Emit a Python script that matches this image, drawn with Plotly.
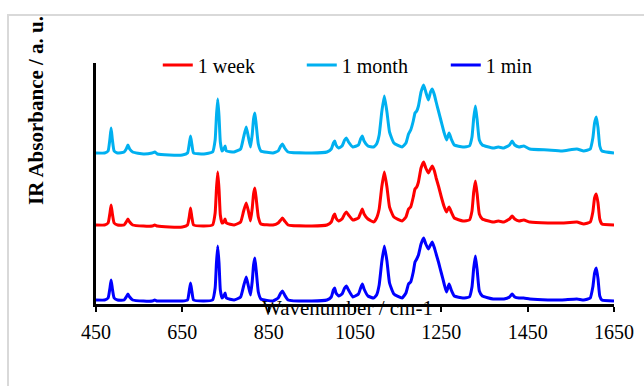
import plotly.graph_objects as go

# Wavenumber grid (cm-1)
wavenumber = [
    450, 470, 478, 482, 485, 488, 492, 500, 515, 520,
    524, 528, 535, 560, 580, 586, 592, 620, 650, 662,
    666, 669, 672, 676, 700, 720, 726, 729, 732, 735,
    738, 742, 746, 749, 752, 770, 785, 792, 798, 803,
    808, 812, 815, 818, 821, 826, 832, 860, 872, 878,
    882, 887, 895, 950, 985, 995, 1000, 1003, 1006, 1012,
    1020, 1026, 1030, 1035, 1045, 1058, 1063, 1067, 1071, 1080,
    1093, 1100, 1106, 1112, 1118, 1124, 1130, 1140, 1159, 1168,
    1174, 1179, 1185, 1189, 1193, 1197, 1203, 1209, 1214, 1220,
    1225, 1229, 1234, 1238, 1244, 1250, 1256, 1262, 1268, 1273,
    1280, 1300, 1315, 1321, 1325, 1329, 1333, 1338, 1345, 1370,
    1382, 1395, 1408, 1414, 1420, 1430, 1441, 1455, 1497, 1530,
    1564, 1580, 1595, 1601, 1605, 1609, 1613, 1617, 1622, 1650,
]

# Absorbance (a. u.) for each sample
absorb_1month = [
    1, 1, 3, 14, 26, 14, 3, 1, 2, 5,
    9, 5, 2, 0, 1, 2, 0, -1, -1, 1,
    10, 18, 10, 1, 0, 2, 14, 38, 55, 38,
    12, 3, 5, 8, 3, 2, 5, 17, 27, 17,
    7, 20, 35, 41, 30, 10, 3, 1, 3, 8,
    10, 6, 2, 1, 2, 5, 11, 13, 9, 6,
    8, 14, 16, 12, 7, 9, 15, 18, 13, 8,
    7, 10, 19, 42, 58, 42, 22, 11, 7, 11,
    20, 24, 33, 41, 43, 48, 62, 69, 62, 54,
    62, 65, 59, 52, 42, 32, 22, 14, 21, 15,
    9, 7, 8, 17, 36, 48, 34, 14, 9, 6,
    7, 6, 9, 13, 9, 7, 8, 5, 4, 3,
    5, 3, 5, 16, 31, 37, 26, 8, 3, 1,
]
absorb_1week = [
    1, 1, 3, 12, 21, 12, 3, 1, 1, 4,
    7, 4, 1, 0, 0, 1, 0, -1, -1, 1,
    9, 18, 9, 1, 0, 1, 13, 37, 54, 37,
    11, 3, 4, 7, 3, 1, 4, 15, 23, 15,
    5, 18, 32, 38, 28, 9, 2, 1, 3, 6,
    8, 5, 1, 0, 1, 4, 10, 12, 8, 5,
    7, 12, 14, 11, 6, 8, 13, 17, 12, 7,
    4, 8, 17, 39, 54, 39, 19, 9, 5, 9,
    17, 19, 29, 37, 39, 44, 58, 64, 58, 53,
    57, 60, 55, 48, 39, 29, 20, 14, 19, 14,
    8, 5, 6, 15, 34, 45, 32, 12, 7, 4,
    5, 4, 7, 10, 7, 5, 6, 4, 3, 3,
    4, 2, 4, 14, 28, 32, 23, 7, 2, 1,
]
absorb_1min = [
    1, 1, 3, 12, 21, 12, 3, 1, 1, 4,
    7, 4, 1, 0, 0, 1, 0, 0, 0, 1,
    10, 18, 10, 1, 0, 1, 13, 38, 55, 38,
    11, 3, 5, 8, 3, 1, 4, 15, 24, 15,
    6, 20, 36, 43, 31, 9, 2, 0, 3, 8,
    10, 6, 1, 0, 1, 4, 11, 13, 8, 5,
    7, 13, 15, 11, 4, 7, 13, 17, 12, 5,
    3, 6, 16, 39, 55, 40, 18, 7, 3, 8,
    17, 19, 29, 39, 42, 46, 57, 63, 57, 52,
    56, 59, 53, 47, 38, 28, 18, 9, 17, 11,
    5, 3, 4, 14, 33, 45, 31, 10, 5, 2,
    2, 2, 4, 7, 4, 3, 3, 2, 1, 1,
    2, 1, 3, 14, 28, 33, 22, 5, 1, 0,
]

series_names = ["1 week", "1 month", "1 min"]
series_values = [absorb_1week, absorb_1month, absorb_1min]
series_offsets = [78, 150, 3]          # vertical stacking offsets (a. u.)
series_colors = ["#FF0000", "#00B0F0", "#0000FF"]

x_tickvals = [450, 650, 850, 1050, 1250, 1450, 1650]

FONT = "Times New Roman, Liberation Serif, serif"

fig = go.Figure()
for name, vals, off, col in zip(series_names, series_values, series_offsets, series_colors):
    fig.add_trace(go.Scatter(
        x=wavenumber, y=[v + off for v in vals], mode="lines", name=name,
        line=dict(color=col, width=3, shape="spline", smoothing=0.4),
    ))

W, H = 644, 386
ml, mr, mt, mb = 96, 30, 63, 82
pw, ph = W - ml - mr, H - mt - mb

fig.update_layout(
    width=W, height=H,
    margin=dict(l=ml, r=mr, t=mt, b=mb, pad=0, autoexpand=False),
    paper_bgcolor="white", plot_bgcolor="white",
    font=dict(family=FONT, size=20, color="black"),
    showlegend=True,
    legend=dict(
        orientation="h", xref="container", yref="container",
        x=0.245, y=1 - 65 / H, xanchor="left", yanchor="middle",
        font=dict(family=FONT, size=20, color="black"),
        entrywidth=99, entrywidthmode="pixels", bgcolor="rgba(0,0,0,0)",
    ),
    xaxis=dict(
        range=[450, 1650], tickvals=x_tickvals, ticktext=[str(v) for v in x_tickvals],
        showline=True, linecolor="black", linewidth=2.5, mirror=False,
        ticks="outside", ticklen=5, tickwidth=2, tickcolor="black",
        showgrid=False, zeroline=False, layer="below traces",
        tickfont=dict(family=FONT, size=20, color="black"),
        ticklabelstandoff=3,
    ),
    yaxis=dict(
        range=[0, ph], showline=True, linecolor="black", linewidth=2.5,
        showticklabels=False, ticks="", showgrid=False, zeroline=False,
        layer="below traces",
    ),
    annotations=[
        dict(text="Wavenumber / cm-1", xref="paper", yref="paper",
             x=(347 - ml) / pw, y=(304 - 308) / ph, xanchor="center", yanchor="middle",
             showarrow=False, font=dict(family=FONT, size=21, color="black")),
        dict(text="<b>IR Absorbance / a. u.</b>", xref="paper", yref="paper",
             x=(36 - ml) / pw, y=(304 - 111) / ph, xanchor="center", yanchor="middle",
             textangle=-90, showarrow=False, font=dict(family=FONT, size=21, color="black")),
    ],
    shapes=[
        dict(type="rect", xref="paper", yref="paper",
             x0=(8 - ml) / pw, x1=(660 - ml) / pw,
             y0=(304 - 420) / ph, y1=(304 - 15) / ph,
             line=dict(color="#D9D9D9", width=2), fillcolor="rgba(0,0,0,0)", layer="below"),
    ],
)

fig.write_html("out.html")
